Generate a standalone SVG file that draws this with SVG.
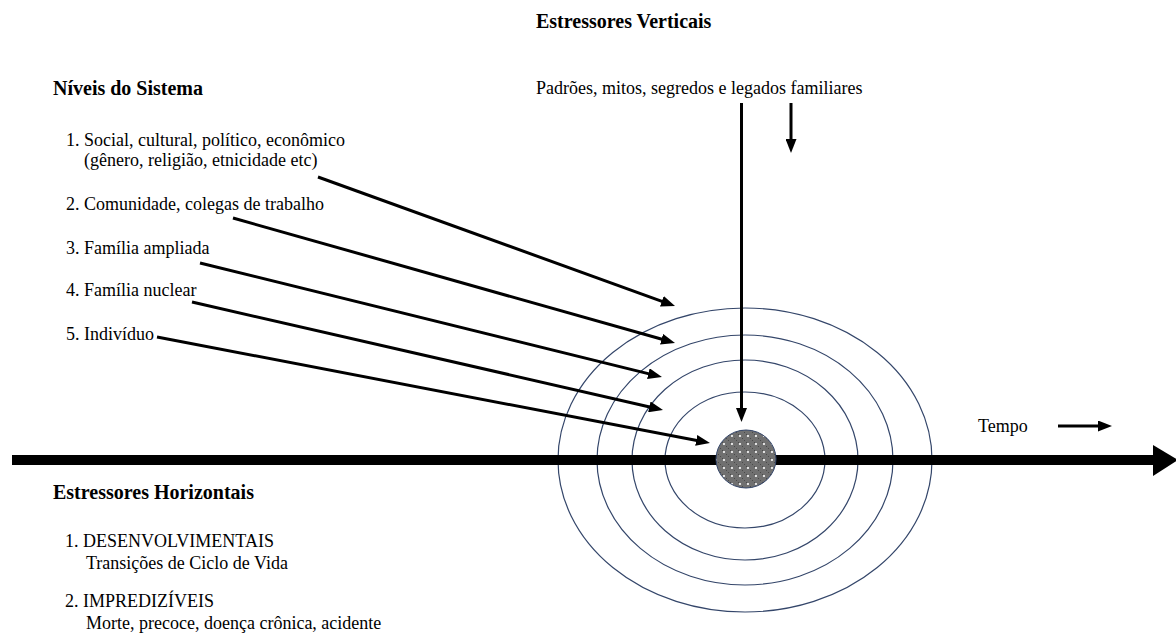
<svg xmlns="http://www.w3.org/2000/svg" width="1176" height="639" viewBox="0 0 1176 639">
<style>
text{font-family:"Liberation Serif","Times New Roman",serif;fill:#000;}
.h{font-size:20px;font-weight:bold;}
.t{font-size:18px;}
.ring{fill:none;stroke:#34466a;stroke-width:1.2;}
.arr{stroke:#000;stroke-width:3;fill:none;marker-end:url(#ah);}
</style>
<defs>
<marker id="ah" markerUnits="userSpaceOnUse" markerWidth="14" markerHeight="11" refX="6" refY="5.5" orient="auto">
<path d="M0,0 L14,5.5 L0,11 Z" fill="#000"/>
</marker>
<pattern id="dots" patternUnits="userSpaceOnUse" width="8" height="8">
<rect width="8" height="8" fill="#707070"/>
<rect x="0" y="0" width="1" height="1" fill="#4a4a4a"/>
<rect x="2" y="2" width="1" height="1" fill="#4a4a4a"/>
<rect x="4" y="4" width="1" height="1" fill="#4a4a4a"/>
<rect x="6" y="6" width="1" height="1" fill="#4a4a4a"/>
<circle cx="4" cy="4" r="1.1" fill="#fff"/>
</pattern>
</defs>

<g id="rings">
<ellipse class="ring" cx="745" cy="460" rx="187" ry="152"/>
<ellipse class="ring" cx="745" cy="460" rx="148" ry="125"/>
<ellipse class="ring" cx="745" cy="460" rx="113" ry="100"/>
<ellipse class="ring" cx="745" cy="460" rx="80" ry="68"/>
</g>

<g id="timeline">
<rect x="12" y="455" width="1142" height="10" fill="#000"/>
<polygon points="1153,445 1178,460 1153,476" fill="#000"/>
</g>

<g id="core">
<ellipse cx="746" cy="459" rx="30" ry="29" fill="url(#dots)" stroke="#34466a" stroke-width="1"/>
</g>

<g id="connectors">
<line class="arr" x1="318" y1="177" x2="667.5" y2="303.3"/>
<line class="arr" x1="233" y1="218" x2="667.3" y2="340.8"/>
<line class="arr" x1="200" y1="263" x2="654.2" y2="375.1"/>
<line class="arr" x1="192" y1="302" x2="655.2" y2="408.2"/>
<line class="arr" x1="157" y1="337" x2="702.1" y2="441.5"/>
<line class="arr" x1="741.5" y1="103" x2="741.5" y2="414"/>
<line class="arr" x1="791" y1="103" x2="791" y2="145"/>
<line class="arr" x1="1058" y1="426" x2="1104" y2="426"/>
</g>

<g id="vertical-stressors">
<text class="h" x="536" y="28">Estressores Verticais</text>
<text class="t" x="536" y="94">Padrões, mitos, segredos e legados familiares</text>
</g>

<g id="system-levels">
<text class="h" x="53" y="95">Níveis do Sistema</text>
<text class="t" x="66" y="146">1. Social, cultural, político, econômico</text>
<text class="t" x="84" y="166">(gênero, religião, etnicidade etc)</text>
<text class="t" x="66" y="210">2. Comunidade, colegas de trabalho</text>
<text class="t" x="66" y="254">3. Família ampliada</text>
<text class="t" x="66" y="296">4. Família nuclear</text>
<text class="t" x="66" y="340">5. Indivíduo</text>
</g>

<g id="time-label">
<text class="t" x="978" y="432">Tempo</text>
</g>

<g id="horizontal-stressors">
<text class="h" x="53" y="499">Estressores Horizontais</text>
<text class="t" x="65" y="547">1. DESENVOLVIMENTAIS</text>
<text class="t" x="86" y="569">Transições de Ciclo de Vida</text>
<text class="t" x="65" y="607">2. IMPREDIZÍVEIS</text>
<text class="t" x="86" y="629">Morte, precoce, doença crônica, acidente</text>
</g>
</svg>
